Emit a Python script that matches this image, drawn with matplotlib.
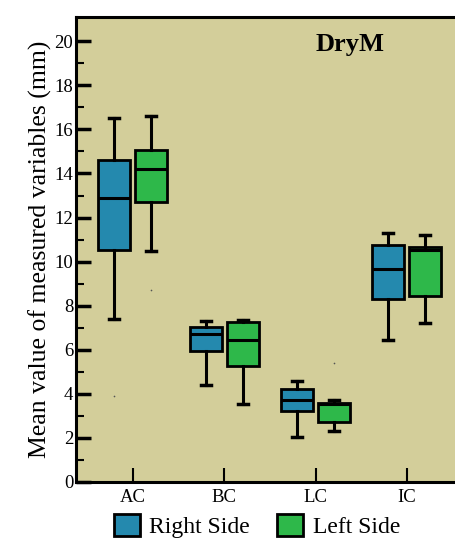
import matplotlib.pyplot as plt
from matplotlib.patches import Patch

plt.rcParams['font.family'] = ['Liberation Serif', 'DejaVu Serif']

groups = ['AC', 'BC', 'LC', 'IC']
sides = ['Right Side', 'Left Side']
colors = ['#2489AE', '#2EB84A']

# five-number summaries per side: lower whisker, Q1, median, Q3, upper whisker
right_lo = [7.4, 4.4, 2.05, 6.45]
right_q1 = [10.55, 5.95, 3.2, 8.3]
right_med = [12.9, 6.7, 3.7, 9.65]
right_q3 = [14.6, 7.05, 4.2, 10.75]
right_hi = [16.5, 7.3, 4.6, 11.3]
right_out = [[3.9], [], [], []]

left_lo = [10.5, 3.55, 2.3, 7.2]
left_q1 = [12.7, 5.25, 2.7, 8.45]
left_med = [14.2, 6.45, 3.55, 10.55]
left_q3 = [15.05, 7.25, 3.6, 10.65]
left_hi = [16.6, 7.35, 3.7, 11.2]
left_out = [[8.7], [], [5.4], []]

series = [
    (right_lo, right_q1, right_med, right_q3, right_hi, right_out),
    (left_lo, left_q1, left_med, left_q3, left_hi, left_out),
]

fig = plt.figure(figsize=(4.56, 5.56), dpi=100)
ax = fig.add_axes([76 / 456, 74 / 556, 394 / 456, 465 / 556])
ax.set_facecolor('#D3CE9A')

offsets = [-0.205, 0.2]
for k, (lo, q1, med, q3, hi, out) in enumerate(series):
    stats = []
    for i in range(len(groups)):
        stats.append(dict(whislo=lo[i], q1=q1[i], med=med[i], q3=q3[i],
                          whishi=hi[i], fliers=out[i]))
    pos = [i + 1 + offsets[k] for i in range(len(groups))]
    ax.bxp(stats, positions=pos, widths=0.35, patch_artist=True,
           boxprops=dict(facecolor=colors[k], edgecolor='black', linewidth=2),
           medianprops=dict(color='black', linewidth=2.2),
           whiskerprops=dict(color='black', linewidth=2.2),
           capprops=dict(color='black', linewidth=2.5),
           capwidths=0.11,
           flierprops=dict(marker='o', markersize=1.2, markerfacecolor='#555',
                           markeredgecolor='none'))

ax.set_xlim(1 - 57 / 91, 4 + 63 / 91)
ax.set_ylim(0, 21.1)
ax.set_xticks(range(1, len(groups) + 1))
ax.set_xticklabels(groups, fontsize=13.5)
ax.set_yticks(range(0, 21, 2))
ax.set_yticks(range(1, 21, 2), minor=True)
ax.tick_params(axis='y', which='major', direction='in', length=11, width=2.5,
               labelsize=13.5, pad=2)
ax.tick_params(axis='y', which='minor', direction='in', length=6, width=1.5)
ax.tick_params(axis='x', direction='in', length=10, width=1.5, labelsize=13.5,
               pad=5)
for side in ['left', 'top', 'bottom']:
    ax.spines[side].set_linewidth(2.2)
ax.spines['right'].set_visible(False)

ax.set_ylabel('Mean value of measured variables (mm)', fontsize=18.5, labelpad=2)
ax.text(0.695, 0.94, 'DryM', transform=ax.transAxes, fontsize=19,
        fontweight='bold', ha='center', va='center')

handles = [Patch(facecolor=c, edgecolor='black', linewidth=2) for c in colors]
fig.legend(handles, sides, loc='center', bbox_to_anchor=(257 / 456, 1 - 526 / 556),
           ncol=2, frameon=False, fontsize=17, handlelength=1.1,
           handleheight=1.1, handletextpad=0.4, columnspacing=1.15)

fig.savefig('out.png', dpi=100)
